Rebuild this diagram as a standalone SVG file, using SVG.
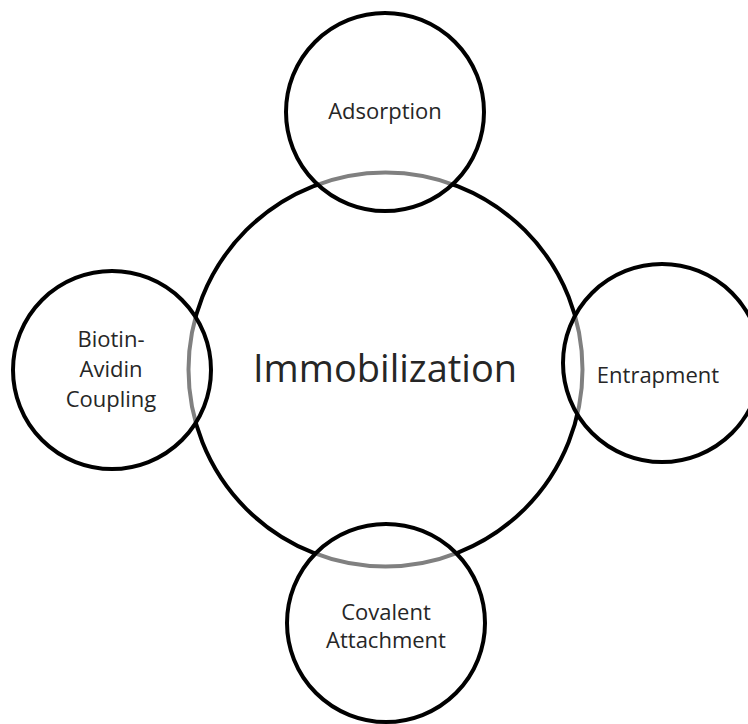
<svg xmlns="http://www.w3.org/2000/svg" width="748" height="724" viewBox="0 0 748 724">
<style>
.c{stroke:#000;stroke-width:4}
.main{fill:#fff}
.sat{fill:#fff;fill-opacity:0.5}
text{font-family:"Open Sans","Liberation Sans",sans-serif;fill:#262626;text-anchor:middle}
.s{font-size:22px}
.b{font-size:38px}
</style>
<rect width="748" height="724" fill="#fff"/>
<g id="immobilization">
<circle class="c main" cx="385.5" cy="369.5" r="197"/>
<text class="b" x="385" y="382">Immobilization</text>
</g>
<g id="adsorption">
<circle class="c sat" cx="385" cy="112" r="99"/>
<text class="s" x="385" y="119">Adsorption</text>
</g>
<g id="entrapment">
<circle class="c sat" cx="662" cy="363" r="99"/>
<text class="s" x="658" y="383">Entrapment</text>
</g>
<g id="biotin-avidin">
<circle class="c sat" cx="112" cy="370" r="99"/>
<text class="s" x="111" y="347">Biotin-</text>
<text class="s" x="111" y="377">Avidin</text>
<text class="s" x="111" y="407">Coupling</text>
</g>
<g id="covalent">
<circle class="c sat" cx="386" cy="623" r="99"/>
<text class="s" x="386" y="620">Covalent</text>
<text class="s" x="386" y="648">Attachment</text>
</g>
</svg>
